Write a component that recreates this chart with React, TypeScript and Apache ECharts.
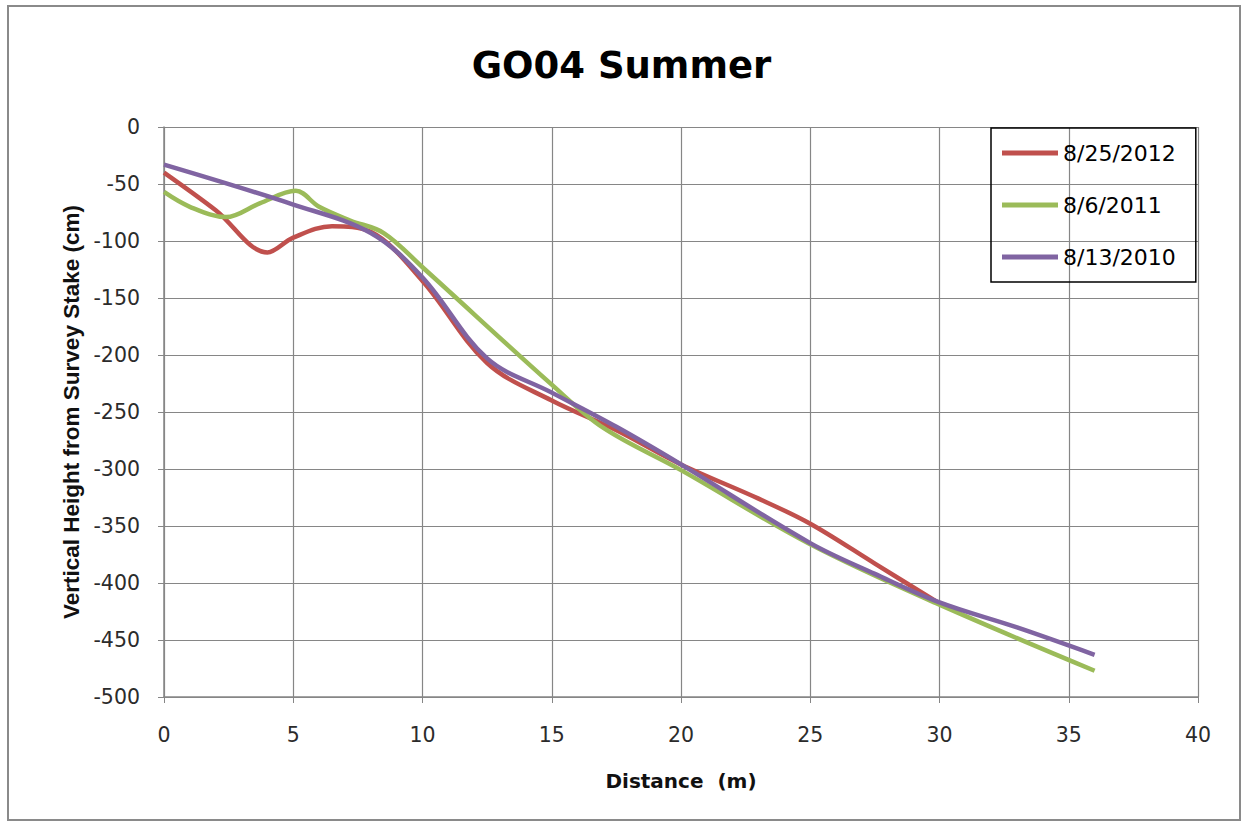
import React, { useEffect, useRef } from "react";
import * as echarts from "echarts";

const chartTitle = "GO04 Summer";
const xAxisTitle = "Distance  (m)";
const yAxisTitle = "Vertical Height from Survey Stake (cm)";
const seriesNames = ["8/25/2012", "8/6/2011", "8/13/2010"];

const dist2012 = [0, 2, 4, 5, 6.5, 8, 10, 12.5, 15, 17.5, 20, 23, 25, 27.5, 30];
const height2012 = [-40, -73, -110, -97, -87, -92, -135, -207, -240, -266, -296, -326, -348, -383, -418];

const dist2011 = [0, 1, 2.4, 3.7, 5.1, 6, 7.2, 8.5, 10, 15, 17, 20, 25, 30, 36];
const height2011 = [-57, -70, -79, -67, -56, -70, -82, -93, -123, -226, -264, -301, -366, -419, -477];

const dist2010 = [0, 5, 8, 10, 12.5, 15, 17.5, 20, 25, 27.5, 30, 33, 36];
const height2010 = [-33, -68, -93, -132, -203, -233, -263, -296, -365, -392, -417, -439, -463];

const colors = ["#C0504D", "#9BBB59", "#8064A2"];

const pairs = (xs: number[], ys: number[]) => xs.map((x, i) => [x, ys[i]]);

export default function App() {
  const ref = useRef<HTMLDivElement>(null);
  useEffect(() => {
    if (!ref.current) return;
    const chart = echarts.init(ref.current, null, { renderer: "svg" });
    const datasets = [
      pairs(dist2012, height2012),
      pairs(dist2011, height2011),
      pairs(dist2010, height2010),
    ];
    chart.setOption({
      animation: false,
      backgroundColor: "#ffffff",
      title: {
        text: chartTitle,
        left: "center",
        top: 42,
        textStyle: { fontFamily: "DejaVu Sans", fontWeight: "bold", fontSize: 37, color: "#000" },
      },
      graphic: [
        {
          type: "rect",
          shape: { x: 8, y: 6, width: 1232, height: 814 },
          style: { fill: "none", stroke: "#8a8a8a", lineWidth: 2 },
          silent: true,
        },
      ],
      legend: {
        orient: "vertical",
        left: 991,
        top: 128,
        padding: [14, 20, 14, 11],
        borderColor: "#000",
        borderWidth: 1.5,
        itemWidth: 56,
        itemHeight: 5,
        itemGap: 30,
        icon: "rect",
        textStyle: { fontFamily: "DejaVu Sans", fontSize: 22, color: "#000" },
        data: seriesNames,
      },
      grid: { left: 164, top: 127, width: 1034, height: 570, containLabel: false },
      xAxis: {
        type: "value",
        min: 0,
        max: 40,
        interval: 5,
        name: xAxisTitle,
        nameLocation: "middle",
        nameGap: 74,
        nameTextStyle: { fontFamily: "DejaVu Sans", fontWeight: "bold", fontSize: 20, color: "#111" },
        axisLine: { show: true, onZero: false, lineStyle: { color: "#868686", width: 1.5 } },
        axisTick: { show: true, inside: false, length: 6, lineStyle: { color: "#868686" } },
        axisLabel: { margin: 27, fontFamily: "DejaVu Sans", fontSize: 20.5, color: "#2b2b2b" },
        splitLine: { show: true, lineStyle: { color: "#868686", width: 1.2 } },
      },
      yAxis: {
        type: "value",
        min: -500,
        max: 0,
        interval: 50,
        name: yAxisTitle,
        nameLocation: "middle",
        nameGap: 81,
        nameRotate: 90,
        nameTextStyle: { fontFamily: "Liberation Sans", fontWeight: "bold", fontSize: 22.5, color: "#111" },
        axisLine: { show: true, onZero: false, lineStyle: { color: "#868686", width: 1.5 } },
        axisTick: { show: true, inside: false, length: 6, lineStyle: { color: "#868686" } },
        axisLabel: { margin: 24, fontFamily: "DejaVu Sans", fontSize: 20.5, color: "#2b2b2b" },
        splitLine: { show: true, lineStyle: { color: "#868686", width: 1.2 } },
      },
      series: datasets.map((d, i) => ({
        name: seriesNames[i],
        type: "line",
        data: d,
        smooth: 0.35,
        showSymbol: false,
        symbol: "none",
        lineStyle: { color: colors[i], width: 4.5 },
        itemStyle: { color: colors[i] },
        z: 2 + i,
      })),
    });
    return () => chart.dispose();
  }, []);
  return (
    <div
      ref={ref}
      style={{ position: "absolute", left: 0, top: 0, width: 1243, height: 825, background: "#fff" }}
    />
  );
}
